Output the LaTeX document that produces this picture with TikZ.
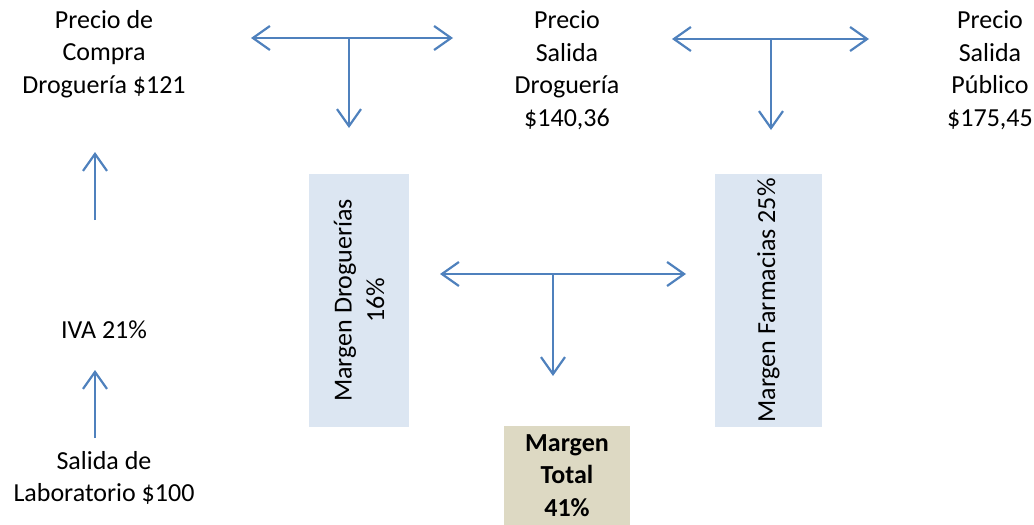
\documentclass[tikz,border=0pt]{standalone}
\usepackage{fontspec}
\setmainfont{Carlito}
\usetikzlibrary{arrows.meta,positioning}
\definecolor{arrowblue}{HTML}{4F81BD}
\definecolor{boxblue}{HTML}{DCE6F2}
\definecolor{boxtan}{HTML}{DDD9C3}

\begin{document}
\begin{tikzpicture}[x=1pt,y=1pt,
  txt/.style={align=center,inner sep=0pt,font=\fontsize{26}{32.5}\selectfont},
  flow/.style={draw=arrowblue,line width=2.2pt,-{Straight Barb[length=17pt,width=24pt,line width=2.2pt]}},
  twoway/.style={draw=arrowblue,line width=2.2pt,{Straight Barb[length=17pt,width=24pt,line width=2.2pt]}-{Straight Barb[length=17pt,width=24pt,line width=2.2pt]}},
  stem/.style={draw=arrowblue,line width=2.2pt},
  margin/.style={txt,rotate=90,fill=boxblue,minimum width=253pt},
]
\useasboundingbox (0,0) rectangle (1034,-525);
% price texts
\node[txt] (compra) at (104,-54) {Precio de\\Compra\\Droguería \$121};
\node[txt] (iva) at (104,-330) {IVA 21\%};
\node[txt] (lab) at (104,-478) {Salida de\\Laboratorio \$100};
\node[txt] (drog) at (567,-70) {Precio\\Salida\\Droguería\\\$140,36};
\node[txt] (pub) at (990,-70) {Precio\\Salida\\Público\\\$175,45};
% margin boxes
\node[margin,minimum height=100pt] (mdrog) at (359,-300.5) {Margen Droguerías\\16\%};
\node[margin,minimum height=107pt] (mfarm) at (768.5,-300.5) {Margen Farmacias 25\%};
\node[txt,fill=boxtan,font=\fontsize{26}{32.5}\selectfont\bfseries,minimum width=126pt,minimum height=99pt] (total) at (567,-475.5) {Margen\\Total\\41\%};
% arrow end points
\coordinate (labTop) at (95,-438);
\coordinate (ivaBot) at (95,-370);
\coordinate (ivaTop) at (95,-220);
\coordinate (compraBot) at (95,-152);
\coordinate (t1L) at (251,-38);
\coordinate (t1R) at (453,-38);
\coordinate (t1M) at (349,-38);
\coordinate (t1D) at (349,-128);
\coordinate (t2L) at (672,-39);
\coordinate (t2R) at (869,-39);
\coordinate (t2M) at (771,-39);
\coordinate (t2D) at (771,-130);
\coordinate (t3L) at (440,-274);
\coordinate (t3R) at (686,-274);
\coordinate (t3M) at (553,-274);
\coordinate (t3D) at (553,-376);
% connectors
\draw[flow] (labTop) -- (ivaBot);
\draw[flow] (ivaTop) -- (compraBot);
\draw[twoway] (t1L) -- (t1R);
\draw[flow] (t1M) -- (t1D);
\draw[twoway] (t2L) -- (t2R);
\draw[flow] (t2M) -- (t2D);
\draw[twoway] (t3L) -- (t3R);
\draw[flow] (t3M) -- (t3D);
\end{tikzpicture}
\end{document}
